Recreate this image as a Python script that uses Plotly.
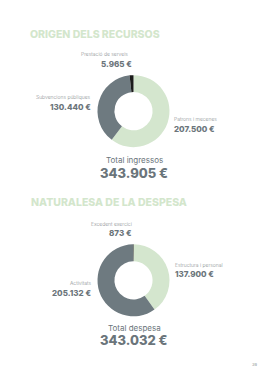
import plotly.graph_objects as go

W, H = 269, 380

# ---- data ----
ingressos_labels = ["Patrons i mecenes", "Subvencions públiques", "Prestació de serveis"]
ingressos_values = [207500, 130440, 5965]
ingressos_total = 343905

despesa_labels = ["Estructura i personal", "Activitats", "Excedent exercici"]
despesa_values = [137900, 205132, 873]
despesa_total = 343032

titles = ["ORIGEN DELS RECURSOS", "NATURALESA DE LA DESPESA"]
total_labels = ["Total ingressos", "Total despesa"]
page_number = "39"

GREEN = "#d4e6ce"
GREY = "#6e7a80"
BLACK = "#1b1b1b"
TITLE_GREEN = "#d3e6cc"
LABEL_GREY = "#8a8f92"
VALUE_GREY = "#6b757b"
FONT = "Inter"


def eur(v):
    return f"{v:,}".replace(",", ".") + " €"


def px(x):
    return x / W


def py(y):
    return 1 - y / H


fig = go.Figure()

fig.add_trace(go.Pie(
    labels=ingressos_labels, values=ingressos_values, hole=0.53,
    sort=False, direction="clockwise", rotation=0,
    marker=dict(colors=[GREEN, GREY, BLACK], line=dict(width=0)),
    textinfo="none", hoverinfo="label+value", showlegend=False,
    domain=dict(x=[px(97.5), px(169.5)], y=[py(147.3), py(75)]),
))
fig.add_trace(go.Pie(
    labels=despesa_labels, values=despesa_values, hole=0.53,
    sort=False, direction="clockwise", rotation=0,
    marker=dict(colors=[GREEN, GREY, BLACK], line=dict(width=0)),
    textinfo="none", hoverinfo="label+value", showlegend=False,
    domain=dict(x=[px(97.5), px(169.5)], y=[py(316.7), py(244)]),
))

ann = []


def add(text, x, y, size, color, weight=400, anchor="left"):
    ann.append(dict(text=text, x=px(x), y=py(y), xref="paper", yref="paper",
                    xanchor=anchor, yanchor="middle", showarrow=False, borderpad=0,
                    font=dict(family=FONT, size=size, color=color, weight=weight)))


# titles
add(titles[0], 29.3, 34, 10.5, TITLE_GREEN, 800)
add(titles[1], 30, 202.3, 10.5, TITLE_GREEN, 800)

# chart 1 labels
add(ingressos_labels[2], 129, 54.3, 5, LABEL_GREY, 300, "right")
add(eur(ingressos_values[2]), 133, 64.3, 8, VALUE_GREY, 800, "right")
add(ingressos_labels[1], 92, 96.7, 5, LABEL_GREY, 300, "right")
add(eur(ingressos_values[1]), 92.3, 106.7, 8, VALUE_GREY, 800, "right")
add(ingressos_labels[0], 173, 119, 5, LABEL_GREY, 300, "left")
add(eur(ingressos_values[0]), 173, 129.3, 8, VALUE_GREY, 800, "left")
add(total_labels[0], 134.5, 160.4, 8, VALUE_GREY, 400, "center")
add(eur(ingressos_total), 134.3, 172.6, 13, VALUE_GREY, 800, "center")

# chart 2 labels
add(despesa_labels[2], 132.7, 223.7, 5, LABEL_GREY, 300, "right")
add(eur(despesa_values[2]), 132.7, 233.3, 8, VALUE_GREY, 800, "right")
add(despesa_labels[0], 173.7, 264.7, 5, LABEL_GREY, 300, "left")
add(eur(despesa_values[0]), 173.7, 274.3, 8, VALUE_GREY, 800, "left")
add(despesa_labels[1], 91.7, 283.3, 5, LABEL_GREY, 300, "right")
add(eur(despesa_values[1]), 91.7, 292.7, 8, VALUE_GREY, 800, "right")
add(total_labels[1], 134.5, 328, 8, VALUE_GREY, 400, "center")
add(eur(despesa_total), 134.2, 340.2, 13, VALUE_GREY, 800, "center")

add(page_number, 254, 364, 4, LABEL_GREY, 400, "center")

fig.update_layout(
    width=W, height=H, margin=dict(l=0, r=0, t=0, b=0),
    paper_bgcolor="white", plot_bgcolor="white",
    annotations=ann,
)

fig.write_html("out.html", config={"displayModeBar": False})
